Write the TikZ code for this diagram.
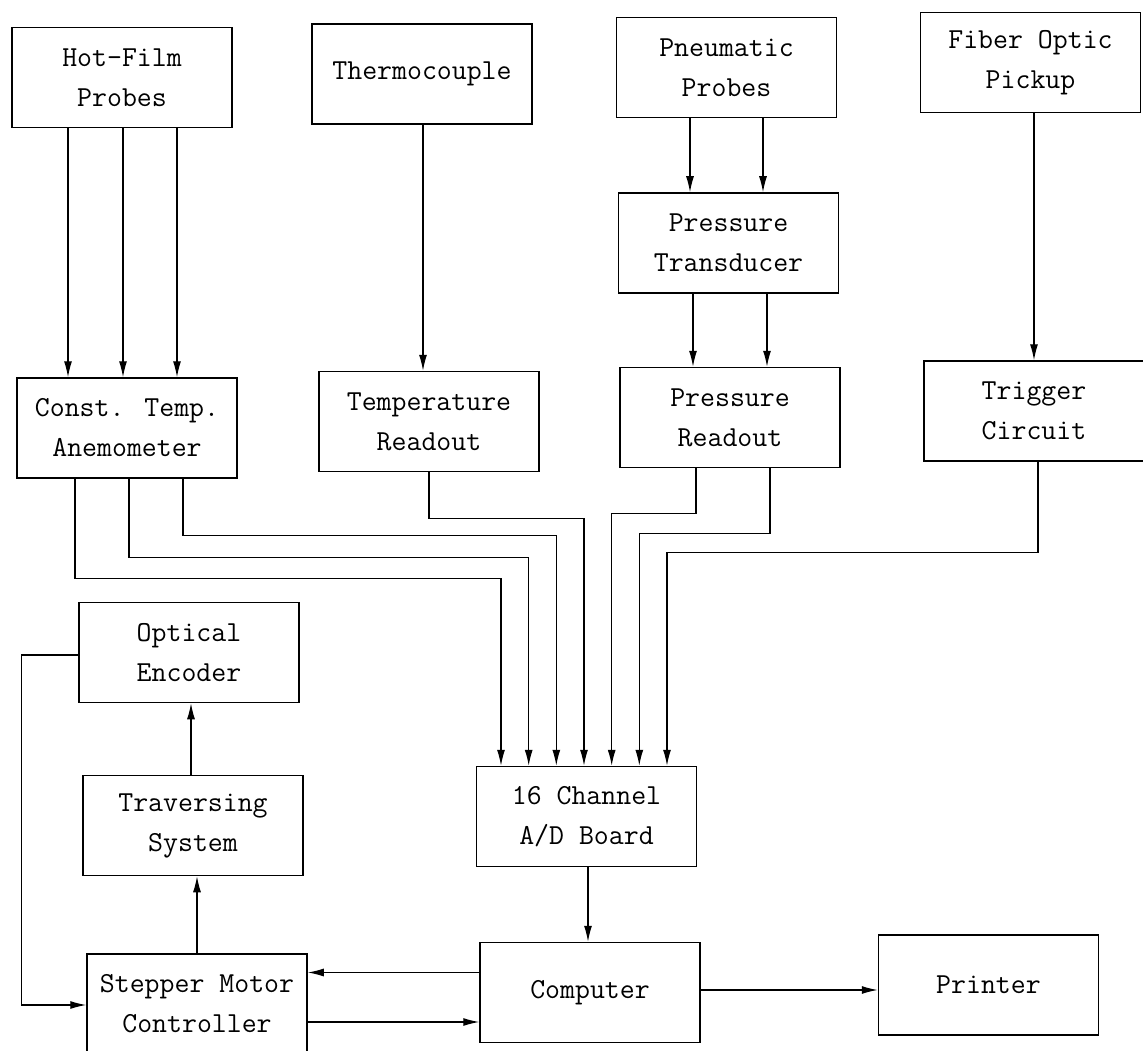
\documentclass[tikz,border=0pt]{standalone}
\usepackage{tikz}
\usetikzlibrary{arrows.meta, calc}

\begin{document}
\begin{tikzpicture}[x=1pt, y=-1pt,
  blk/.style = {draw, line width=1.5pt, minimum width=220pt, minimum height=100pt,
                align=center, font=\fontsize{29}{40}\selectfont\ttfamily},
  arr/.style = {line width=1.2pt, -{Latex[length=16pt, width=8pt]}}]
\useasboundingbox (0,0) rectangle (1143,1051);
\node[blk] (hf)  at (122,77.5)  {Hot–Film\\Probes};
\node[blk] (tc)  at (422,74)    {Thermocouple};
\node[blk] (pp)  at (726.5,67.5){Pneumatic\\Probes};
\node[blk] (fo)  at (1030.5,62.5){Fiber Optic\\Pickup};
\node[blk] (pt)  at (728.5,243) {Pressure\\Transducer};
\node[blk] (cta) at (127,428)   {Const. Temp.\\Anemometer};
\node[blk] (tr)  at (429,421.5) {Temperature\\Readout};
\node[blk] (pr)  at (730,417.5) {Pressure\\Readout};
\node[blk] (tg)  at (1034,411)  {Trigger\\Circuit};
\node[blk] (oe)  at (189,652.5) {Optical\\Encoder};
\node[blk] (ts)  at (193,825.5) {Traversing\\System};
\node[blk] (ad)  at (586.5,816.5){16 Channel\\A/D Board};
\node[blk] (smc) at (197,1004)  {Stepper Motor\\Controller};
\node[blk] (cp)  at (590,992.5) {Computer};
\node[blk] (prn) at (988.5,985) {Printer};
\foreach \dx in {-54,1,55}
  \draw[arr] ([xshift=\dx pt]hf.south) -- ([xshift=\dx pt]hf.south |- cta.north);
\draw[arr] ([xshift=1pt]tc.south) -- ([xshift=1pt]tc.south |- tr.north);
\foreach \dx in {-36.5,36.5}
  \draw[arr] ([xshift=\dx pt]pp.south) -- ([xshift=\dx pt]pp.south |- pt.north);
\foreach \dx in {-35.5,38.5}
  \draw[arr] ([xshift=\dx pt]pt.south) -- ([xshift=\dx pt]pt.south |- pr.north);
\draw[arr] (tg.north |- fo.south) -- (tg.north);
\draw[arr] ([xshift=-52pt]cta.south) -- ++(0,100) -| ([xshift=-85.5pt]ad.north);
\draw[arr] ([xshift=2pt]cta.south) -- ++(0,79) -| ([xshift=-57.8pt]ad.north);
\draw[arr] ([xshift=56pt]cta.south) -- ++(0,57) -| ([xshift=-30.2pt]ad.north);
\draw[arr] (tr.south) -- ++(0,46) -| ([xshift=-2.5pt]ad.north);
\draw[arr] ([xshift=-34pt]pr.south) -- ++(0,45) -| ([xshift=25.2pt]ad.north);
\draw[arr] ([xshift=40pt]pr.south) -- ++(0,65) -| ([xshift=52.8pt]ad.north);
\draw[arr] ([xshift=4pt]tg.south) -- ++(0,91) -| ([xshift=80.5pt]ad.north);
\draw[arr] ([xshift=1.5pt]ad.south) -- ([xshift=1.5pt]ad.south |- cp.north);
\draw[arr] ([yshift=20pt]cp.west) -- ([yshift=20pt]cp.west -| smc.east);
\draw[arr] ([yshift=-18pt]smc.east) -- ([yshift=-18pt]smc.east -| cp.west);
\draw[arr] ([yshift=2.5pt]cp.east) -- ([yshift=2.5pt]cp.east -| prn.west);
\draw[arr] (smc.north) -- (smc.north |- ts.south);
\draw[arr] ([xshift=-2pt]ts.north) -- ([xshift=-2pt]ts.north |- oe.south);
\draw[arr] ([yshift=-2.5pt]oe.west) -- ++(-57,0) |- ([yshift=-1pt]smc.west);
\end{tikzpicture}
\end{document}
